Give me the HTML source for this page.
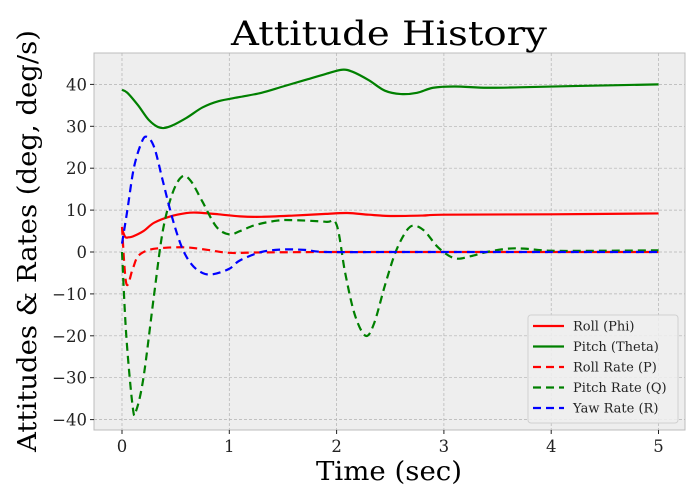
<!DOCTYPE html>
<html><head><meta charset="utf-8"><style>
body{margin:0;background:#fff;}
svg{display:block;font-family:"DejaVu Serif","Liberation Serif",serif;}
</style></head><body>
<svg id="chart" width="700" height="500" viewBox="0 0 700 500" xmlns="http://www.w3.org/2000/svg">
<rect x="94" y="53" width="591" height="377" fill="#eeeeee" stroke="#bcbcbc" stroke-width="1"/>
<g id="grid"></g>
<g id="ticks"></g>
<g id="series"></g>
<text x="389" y="45" font-size="34" text-anchor="middle" textLength="316" lengthAdjust="spacingAndGlyphs">Attitude History</text>
<text x="389" y="480" font-size="26" text-anchor="middle" textLength="146" lengthAdjust="spacingAndGlyphs">Time (sec)</text>
<text transform="translate(36,241) rotate(-90)" font-size="26" text-anchor="middle" textLength="422" lengthAdjust="spacingAndGlyphs">Attitudes &amp; Rates (deg, deg/s)</text>
<g id="legend"></g>
</svg>
<script>
const xTicks=[0,1,2,3,4,5];
const yTicks=[-40,-30,-20,-10,0,10,20,30,40];
const rollT=[0,0.03,0.06,0.1,0.2,0.3,0.45,0.6,0.7,0.9,1.1,1.3,1.6,1.9,2.1,2.3,2.5,2.8,3,4,5];
const rollV=[5.5,3.6,3.5,3.7,5,7,8.5,9.3,9.4,9,8.5,8.4,8.7,9.1,9.3,8.9,8.6,8.7,8.9,9,9.2];
const pitchT=[0,0.05,0.15,0.25,0.35,0.45,0.6,0.75,0.9,1.1,1.3,1.5,1.7,1.9,2.05,2.15,2.3,2.45,2.6,2.75,2.9,3.1,3.4,3.7,4.2,5];
const pitchV=[38.7,38,35,31.5,29.7,30,32,34.5,36,37,38,39.5,41,42.5,43.5,43,41,38.5,37.7,38,39.2,39.5,39.2,39.3,39.6,40];
const pT=[0,0.04,0.1,0.15,0.25,0.4,0.6,0.8,1,1.3,2,3,4,5];
const pV=[6,-7.5,-4,-1,0.5,1,1.1,0.5,-0.2,-0.1,0,0,0,0];
const qT=[0,0.04,0.1,0.13,0.2,0.3,0.38,0.47,0.56,0.64,0.75,0.88,1,1.1,1.25,1.45,1.6,1.9,2,2.08,2.17,2.27,2.35,2.45,2.55,2.65,2.72,2.82,2.95,3.1,3.25,3.4,3.6,3.75,4,4.5,5];
const qV=[0,-20,-37,-38,-30,-10,5,14,18,17,12,6,4.2,5,6.5,7.5,7.6,7.2,6.5,-5,-15,-20,-17,-8,0,5,6.3,5,1,-1.5,-1,0,0.8,0.8,0.3,0.3,0.4];
const rT=[0,0.05,0.11,0.18,0.23,0.3,0.38,0.47,0.56,0.65,0.75,0.85,1,1.1,1.3,1.5,1.7,1.9,2.5,3,4,5];
const rV=[2,10,20,26,27.5,25,17,8,1,-3,-5,-5.3,-4,-2,0,0.6,0.5,0,0,0,0,0];

const NS="http://www.w3.org/2000/svg";
const X=t=>122+t*107.3;
const Y=v=>252-v*4.19;
function mk(tag,attrs,parent){const e=document.createElementNS(NS,tag);for(const k in attrs)e.setAttribute(k,attrs[k]);parent.appendChild(e);return e;}
const grid=document.getElementById('grid'),ticks=document.getElementById('ticks');
xTicks.forEach(t=>{
 const l=mk('line',{x1:X(t),x2:X(t),y1:53,y2:430,stroke:'#b2b2b2','stroke-width':0.7,'stroke-dasharray':'3,2'},grid);
 
 
 const tk=mk('line',{x1:X(t),x2:X(t),y1:430,y2:434,stroke:'#222','stroke-width':1},ticks);
 
 
 const tx=mk('text',{x:X(t),y:452,'font-size':16.5,'text-anchor':'middle',fill:'#222'},ticks);
 tx.textContent=String(t);
 
 
});
yTicks.forEach(v=>{
 const l=mk('line',{x1:94,x2:685,y1:Y(v),y2:Y(v),stroke:'#b2b2b2','stroke-width':0.7,'stroke-dasharray':'3,2'},grid);
 
 
 const tk=mk('line',{x1:90,x2:94,y1:Y(v),y2:Y(v),stroke:'#222','stroke-width':1},ticks);
 
 
 const tx=mk('text',{x:87,y:Y(v)+6,'font-size':16.5,'text-anchor':'end',fill:'#222'},ticks);
 tx.textContent=(v<0?'\u2212':'')+Math.abs(v);
 
 
});
function pathD(ts,vs){
 const p=ts.map((t,i)=>[X(t),Y(vs[i])]);
 let d='M'+p[0][0]+','+p[0][1];
 for(let i=0;i<p.length-1;i++){
  const p0=p[Math.max(0,i-1)],p1=p[i],p2=p[i+1],p3=p[Math.min(p.length-1,i+2)];
  const c1x=p1[0]+(p2[0]-p0[0])/6,c1y=p1[1]+(p2[1]-p0[1])/6;
  const c2x=p2[0]-(p3[0]-p1[0])/6,c2y=p2[1]-(p3[1]-p1[1])/6;
  d+=' C'+c1x+','+c1y+' '+c2x+','+c2y+' '+p2[0]+','+p2[1];
 }
 return d;
}
const series=[
 {n:'roll-line',t:rollT,v:rollV,c:'#ff0000',dash:null,label:'Roll (Phi)'},
 {n:'pitch-line',t:pitchT,v:pitchV,c:'#008000',dash:null,label:'Pitch (Theta)'},
 {n:'roll-rate-line',t:pT,v:pV,c:'#ff0000',dash:'8,5',label:'Roll Rate (P)'},
 {n:'pitch-rate-line',t:qT,v:qV,c:'#008000',dash:'8,5',label:'Pitch Rate (Q)'},
 {n:'yaw-rate-line',t:rT,v:rV,c:'#0000ff',dash:'8,5',label:'Yaw Rate (R)'}
];
const sg=document.getElementById('series'),lg=document.getElementById('legend');
mk('rect',{x:528,y:315,width:150,height:108,rx:3,fill:'#eeeeee','fill-opacity':0.85,stroke:'#d0d0d0'},lg);
series.forEach((s,i)=>{
 const a={d:pathD(s.t,s.v),fill:'none',stroke:s.c,'stroke-width':2.2};
 if(s.dash)a['stroke-dasharray']=s.dash;
 const p=mk('path',a,sg);
 
 
 const y=326+i*20.5;
 const la={x1:533,x2:564,y1:y,y2:y,stroke:s.c,'stroke-width':2.2};
 if(s.dash)la['stroke-dasharray']='8,5';
 const ll=mk('line',la,lg);
 
 
 const tx=mk('text',{x:573,y:y+4.5,'font-size':13,fill:'#222'},lg);
 tx.textContent=s.label;
 
 
});
</script>
</body></html>
